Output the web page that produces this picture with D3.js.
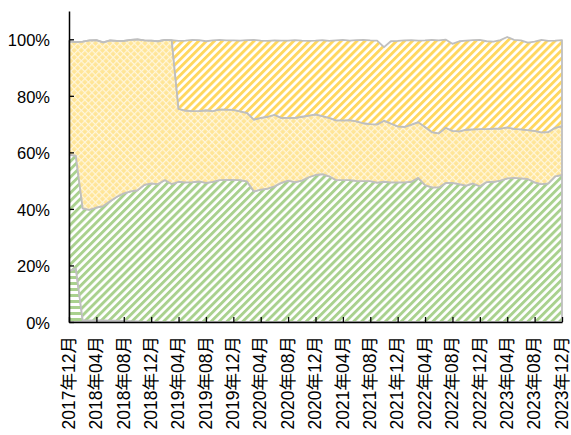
<!DOCTYPE html>
<html>
<head>
<meta charset="utf-8">
<script src="https://cdn.jsdelivr.net/npm/d3@7"></script>
<style>
  html, body { margin: 0; padding: 0; background: #fff; overflow: hidden; }
  svg { display: block; }
</style>
</head>
<body>
<svg id="chart" width="571" height="435"></svg>
<script>
// ---- categories: monthly, 2017年12月 .. 2023年12月 ----
const startYear = 2017, startMonth = 12, monthCount = 73;
const categories = [];
for (let k = 0; k < monthCount; k++) {
  const m0 = startMonth - 1 + k;
  const yy = startYear + Math.floor(m0 / 12);
  const mm = (m0 % 12) + 1;
  categories.push(yy + "年" + String(mm).padStart(2, "0") + "月");
}
const tickEvery = 4;
const yTicks = [0, 20, 40, 60, 80, 100];

// ---- series values (percent) ----
const seriesA = [18.0, 19.0, 0.6, 0.6, 0.6, 0.6, 0.5, 0.5, 0.4, 0.3, 0.2,
  0,0,0,0,0,0,0,0,0,0, 0,0,0,0,0,0,0,0,0,0, 0,0,0,0,0,0,0,0,0,0,
  0,0,0,0,0,0,0,0,0,0, 0,0,0,0,0,0,0,0,0,0, 0,0,0,0,0,0,0,0,0,0,0,0];
const seriesB = [41.2, 39.8, 39.6, 39.1, 39.9, 40.4, 42.2, 43.8, 45.1, 45.9, 46.4,
  48.5, 49.0, 48.8, 50.2, 48.8, 49.6, 49.4, 49.5, 49.7, 49.2,
  49.6, 50.2, 50.3, 50.3, 50.2, 49.7, 46.2, 46.8, 47.2, 48.0,
  49.2, 50.0, 49.5, 50.0, 51.2, 52.0, 52.3, 51.5, 50.2, 50.2,
  50.2, 49.9, 49.8, 49.8, 49.3, 49.6, 49.4, 49.4, 49.4, 49.6,
  51.0, 48.4, 47.6, 47.6, 49.2, 49.2, 48.8, 48.2, 49.0, 48.0,
  49.5, 49.6, 50.0, 50.8, 51.0, 50.8, 50.6, 49.4, 48.8, 49.0, 51.5, 52.0];
const seriesC = [40.1, 40.2, 59.0, 59.9, 59.2, 57.9, 56.9, 55.1, 53.9, 53.6, 53.4,
  51.1, 50.5, 50.5, 49.6, 50.9, 25.8, 25.4, 25.1, 24.9, 25.7,
  25.0, 25.0, 24.8, 24.7, 24.3, 24.3, 25.4, 25.4, 25.4, 25.3,
  23.0, 22.2, 22.7, 22.6, 21.8, 21.4, 20.5, 20.7, 21.1, 21.1,
  21.2, 21.1, 20.5, 20.2, 20.6, 21.6, 20.8, 19.8, 19.6, 20.2,
  19.7, 20.6, 19.6, 19.1, 19.5, 18.4, 18.6, 19.8, 19.1, 20.2,
  18.7, 18.8, 18.4, 18.0, 17.3, 17.3, 17.3, 18.2, 18.3, 18.2, 17.2, 17.3];
const seriesD = [0,0,0,0,0,0,0,0,0,0, 0,0,0,0,0,0,
  24.0, 24.7, 25.2, 25.1, 24.4,
  25.0, 24.6, 24.5, 24.6, 25.0, 25.7, 28.2, 27.3, 26.8, 26.3,
  27.3, 27.3, 27.5, 26.9, 26.4, 26.1, 26.9, 27.2, 28.3, 28.5,
  28.1, 28.7, 29.5, 29.6, 29.6, 26.0, 29.1, 30.2, 30.6, 29.9,
  28.8, 30.6, 32.6, 32.9, 31.2, 30.8, 31.9, 31.5, 31.6, 31.6,
  31.1, 30.8, 31.3, 32.0, 31.5, 31.5, 30.9, 31.6, 32.7, 32.2, 30.8, 30.4];

const seriesKeys = ["A", "B", "C", "D"];
const table = categories.map((c, i) => ({
  month: c, A: seriesA[i], B: seriesB[i], C: seriesC[i], D: seriesD[i]
}));

// ---- layout ----
const svg = d3.select("#chart");
const plotLeft = 69, plotRight = 562, plotTop = 11, plotBottom = 322;

const x = d3.scalePoint().domain(categories).range([plotLeft, plotRight]);
const y = d3.scaleLinear().domain([0, 110]).range([plotBottom, plotTop]);

// ---- patterns ----
const defs = svg.append("defs");
function diag(id, color) {
  const p = defs.append("pattern").attr("id", id)
    .attr("patternUnits", "userSpaceOnUse")
    .attr("width", 5.6).attr("height", 5.6)
    .attr("patternTransform", "rotate(45)");
  p.append("rect").attr("width", 5.6).attr("height", 5.6).attr("fill", "#ffffff");
  p.append("rect").attr("width", 2.9).attr("height", 5.6).attr("fill", color);
}
diag("pGreen", "#a9d18e");
diag("pGold", "#ffd75e");
{
  const p = defs.append("pattern").attr("id", "pHoriz")
    .attr("patternUnits", "userSpaceOnUse").attr("width", 6).attr("height", 6);
  p.append("rect").attr("width", 6).attr("height", 6).attr("fill", "#ffffff");
  p.append("rect").attr("width", 6).attr("height", 3).attr("fill", "#a9d18e");
}
{
  const p = defs.append("pattern").attr("id", "pCross")
    .attr("patternUnits", "userSpaceOnUse").attr("width", 5).attr("height", 5)
    .attr("patternTransform", "rotate(45)");
  p.append("rect").attr("width", 5).attr("height", 5).attr("fill", "#ffe596");
  p.append("rect").attr("width", 5).attr("height", 1.2).attr("fill", "#fff6dc");
  p.append("rect").attr("width", 1.2).attr("height", 5).attr("fill", "#fff6dc");
}
const fills = { A: "url(#pHoriz)", B: "url(#pGreen)", C: "url(#pCross)", D: "url(#pGold)" };

// ---- areas ----
const stacked = d3.stack().keys(seriesKeys)(table);
const area = d3.area()
  .x(d => x(d.data.month))
  .y0(d => y(d[0]))
  .y1(d => y(d[1]));

svg.append("g").selectAll("path").data(stacked).join("path")
  .attr("d", area)
  .attr("fill", d => fills[d.key])
  .attr("stroke", "#bfbfbf")
  .attr("stroke-width", 1.8)
  .attr("stroke-linejoin", "round");

// ---- axes ----
const font = "'Liberation Sans', Arial, 'Noto Sans CJK SC', sans-serif";

const xAxis = d3.axisBottom(x)
  .tickValues(categories.filter((_, i) => i % tickEvery === 0))
  .tickSizeInner(-5).tickSizeOuter(0);
const gx = svg.append("g").attr("transform", `translate(0,${plotBottom})`).call(xAxis);
gx.select(".domain").attr("stroke", "#000").attr("stroke-width", 1.5);
gx.selectAll(".tick line").attr("stroke", "#000").attr("stroke-width", 1.3);
gx.selectAll(".tick text")
  .attr("transform", "rotate(-90)")
  .attr("x", -14).attr("y", 0).attr("dy", "0.3em")
  .attr("text-anchor", "end")
  .attr("fill", "#000")
  .style("font-family", "'Liberation Sans', 'Noto Sans CJK SC', sans-serif")
  .style("font-size", "17.5px");

const yAxis = d3.axisLeft(y)
  .tickValues(yTicks)
  .tickFormat(d => d + "%")
  .tickSizeInner(-5).tickSizeOuter(0).tickPadding(19);
const gy = svg.append("g").attr("transform", `translate(${plotLeft},0)`).call(yAxis);
gy.select(".domain").attr("stroke", "#000").attr("stroke-width", 1.5);
gy.selectAll(".tick line").attr("stroke", "#000").attr("stroke-width", 1.3);
gy.selectAll(".tick text")
  .attr("fill", "#000")
  .attr("dy", "0.38em")
  .style("font-family", font)
  .style("font-size", "16.5px");
</script>
</body>
</html>
